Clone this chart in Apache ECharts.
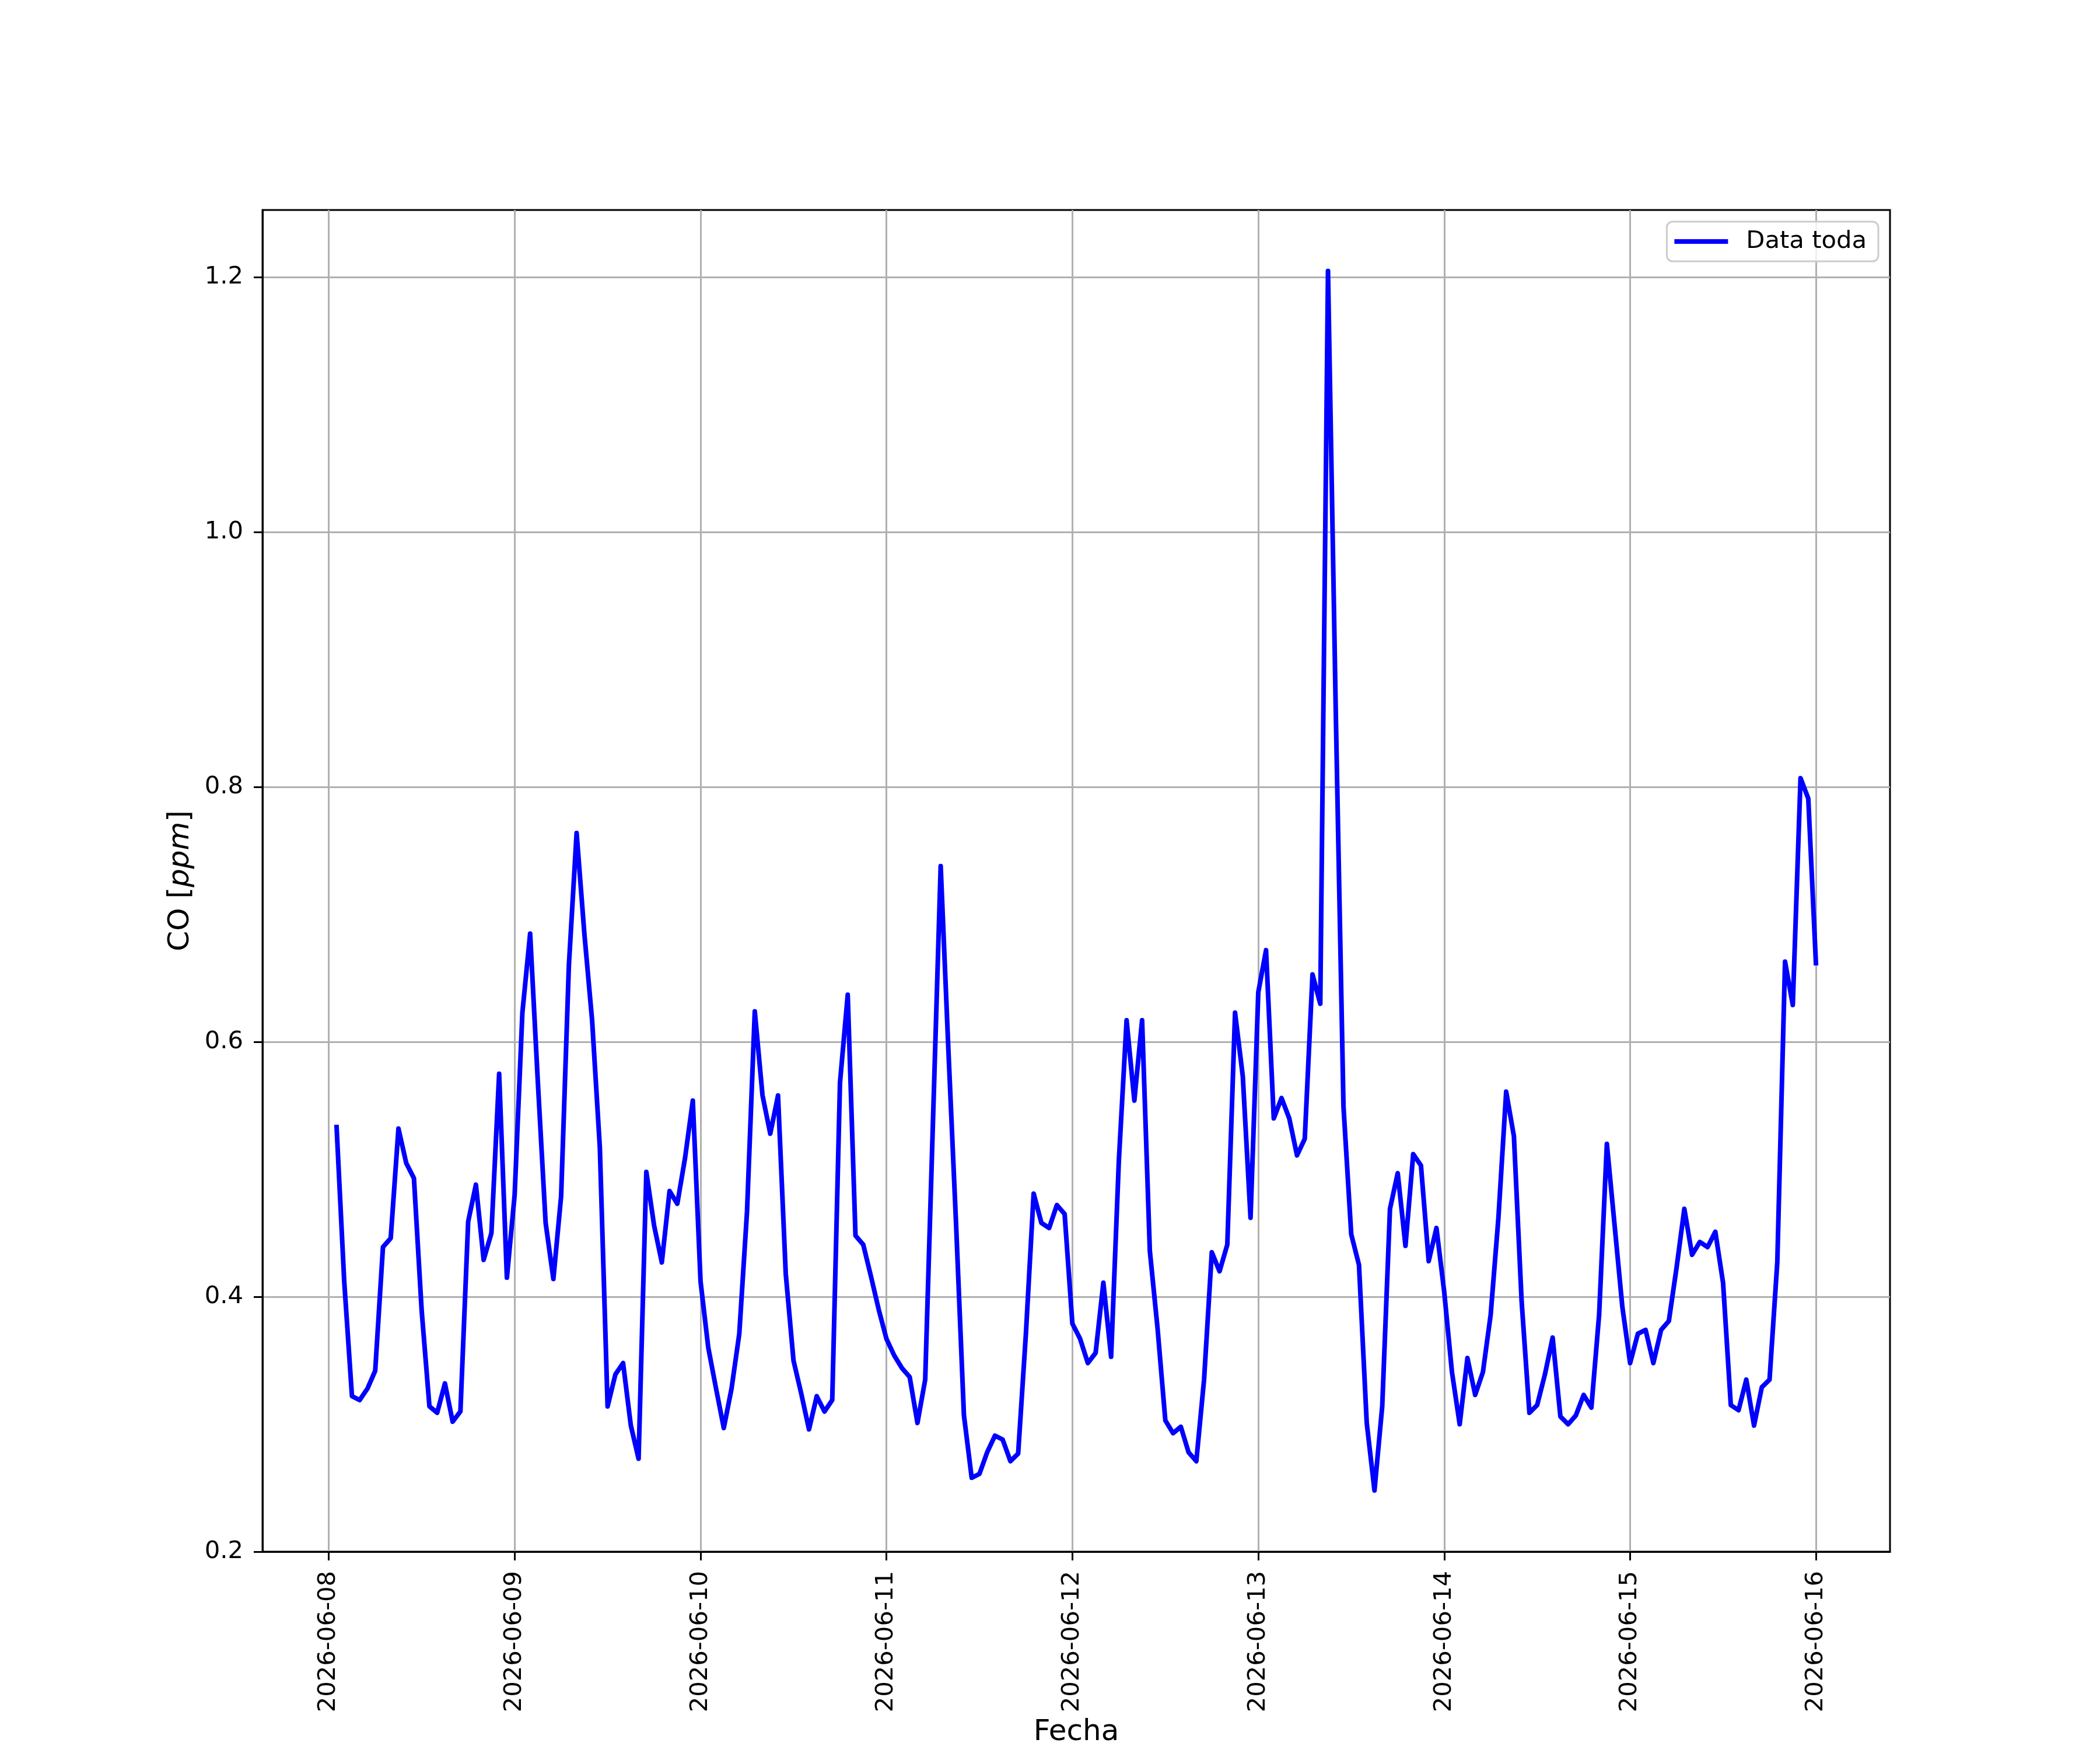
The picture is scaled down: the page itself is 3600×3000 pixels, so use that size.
<!DOCTYPE html>
<html>
<head>
<meta charset="utf-8">
<script src="https://cdn.jsdelivr.net/npm/echarts@6/dist/echarts.min.js"></script>
<style>
  html, body { margin: 0; padding: 0; background: #fff; }
  #main { width: 3600px; height: 3000px; }
</style>
</head>
<body>
<div id="main"></div>
<script>
// hourly CO readings, 2026-06-08 01:00 .. 2026-06-16 00:00 (one array per day)
var day1 = [0.535, 0.412, 0.322, 0.319, 0.328, 0.342, 0.439, 0.446, 0.532, 0.505, 0.493, 0.389,
            0.314, 0.309, 0.332, 0.302, 0.310, 0.459, 0.488, 0.429, 0.450, 0.575, 0.415, 0.480];
var day2 = [0.623, 0.685, 0.568, 0.458, 0.414, 0.479, 0.660, 0.764, 0.685, 0.617, 0.517, 0.314,
            0.339, 0.348, 0.299, 0.273, 0.498, 0.456, 0.427, 0.483, 0.473, 0.509, 0.554, 0.412];
var day3 = [0.360, 0.328, 0.297, 0.328, 0.371, 0.467, 0.624, 0.558, 0.528, 0.558, 0.418, 0.350,
            0.324, 0.296, 0.322, 0.310, 0.319, 0.568, 0.637, 0.448, 0.441, 0.416, 0.390, 0.367];
var day4 = [0.354, 0.344, 0.337, 0.301, 0.335, 0.537, 0.738, 0.593, 0.455, 0.307, 0.258, 0.261,
            0.278, 0.291, 0.288, 0.271, 0.277, 0.371, 0.481, 0.458, 0.454, 0.472, 0.465, 0.379];
var day5 = [0.367, 0.348, 0.356, 0.411, 0.353, 0.507, 0.617, 0.554, 0.617, 0.436, 0.375, 0.303,
            0.293, 0.298, 0.278, 0.271, 0.335, 0.435, 0.420, 0.441, 0.623, 0.573, 0.462, 0.639];
var day6 = [0.672, 0.540, 0.556, 0.540, 0.511, 0.524, 0.653, 0.630, 1.205, 0.860, 0.549, 0.449,
            0.425, 0.301, 0.248, 0.314, 0.469, 0.497, 0.440, 0.512, 0.503, 0.428, 0.454, 0.404];
var day7 = [0.341, 0.300, 0.352, 0.323, 0.341, 0.386, 0.462, 0.561, 0.526, 0.396, 0.309, 0.315,
            0.339, 0.368, 0.306, 0.300, 0.307, 0.323, 0.313, 0.386, 0.520, 0.456, 0.392, 0.348];
var day8 = [0.371, 0.374, 0.348, 0.374, 0.381, 0.423, 0.469, 0.433, 0.443, 0.439, 0.451, 0.411,
            0.315, 0.311, 0.335, 0.299, 0.329, 0.335, 0.427, 0.663, 0.629, 0.807, 0.791, 0.660];

var xTicks = ['2026-06-08', '2026-06-09', '2026-06-10', '2026-06-11', '2026-06-12',
              '2026-06-13', '2026-06-14', '2026-06-15', '2026-06-16'];
var yTicks = [0.2, 0.4, 0.6, 0.8, 1.0, 1.2];

var HOUR = 3600 * 1000;
var start = Date.UTC(2026, 5, 8, 1);
var co = [].concat(day1, day2, day3, day4, day5, day6, day7, day8);
var data = co.map(function (v, i) { return [start + i * HOUR, v]; });

// matplotlib style 5% margins
var tFirst = data[0][0], tLast = data[data.length - 1][0];
var xPad = (tLast - tFirst) * 0.05;
var vMax = Math.max.apply(null, co), vMin = Math.min.apply(null, co);
var yMax = vMax + (vMax - vMin) * 0.05;

var xTickValues = xTicks.map(function (d) { return Date.parse(d + 'T00:00:00Z'); });

function two(n) { return n < 10 ? '0' + n : '' + n; }
function fmtDate(t) {
    var d = new Date(t);
    return d.getUTCFullYear() + '-' + two(d.getUTCMonth() + 1) + '-' + two(d.getUTCDate());
}

var FONT = 'DejaVu Sans';
var myChart = echarts.init(document.getElementById('main'));

var option = {
    backgroundColor: '#fff',
    animation: false,
    textStyle: { fontFamily: FONT },
    grid: {
        left: 450, right: 360, top: 360, bottom: 330,
        show: true, borderColor: '#000', borderWidth: 3,
        containLabel: false
    },
    legend: {
        right: 380, top: 380,
        data: ['Data toda'],
        icon: 'rect',
        itemWidth: 92, itemHeight: 8,
        padding: [13, 20, 13, 13],
        backgroundColor: 'rgba(255,255,255,0.8)',
        borderColor: '#cccccc', borderWidth: 3, borderRadius: 10,
        textStyle: { fontSize: 41.7, color: '#000', fontFamily: FONT, padding: [0, 0, 0, 26] }
    },
    xAxis: {
        type: 'value',
        min: tFirst - xPad,
        max: tLast + xPad,
        name: 'Fecha',
        nameLocation: 'middle',
        nameGap: 285,
        nameTextStyle: { fontSize: 50, color: '#000', fontFamily: FONT },
        axisLine: { show: true, lineStyle: { color: '#000', width: 3 } },
        axisTick: { show: true, inside: false, length: 15, lineStyle: { color: '#000', width: 3 },
                    customValues: xTickValues },
        axisLabel: { show: true, rotate: 90, margin: 33, fontSize: 41.7, color: '#000', fontFamily: FONT,
                     customValues: xTickValues, formatter: function (v) { return fmtDate(v); } },
        splitLine: { show: true, lineStyle: { color: '#b0b0b0', width: 3 } }
    },
    yAxis: {
        type: 'value',
        min: 0.2,
        max: yMax,
        name: 'CO [{i|ppm}]',
        nameLocation: 'middle',
        nameGap: 115,
        nameTextStyle: {
            fontSize: 50, color: '#000', fontFamily: FONT,
            rich: { i: { fontSize: 50, fontStyle: 'italic', color: '#000', fontFamily: FONT } }
        },
        axisLine: { show: true, lineStyle: { color: '#000', width: 3 } },
        axisTick: { show: true, inside: false, length: 15, lineStyle: { color: '#000', width: 3 },
                    customValues: yTicks },
        axisLabel: { show: true, margin: 33, fontSize: 41.7, color: '#000', fontFamily: FONT,
                     customValues: yTicks, formatter: function (v) { return v.toFixed(1); } },
        splitLine: { show: true, lineStyle: { color: '#b0b0b0', width: 3 } }
    },
    series: [{
        name: 'Data toda',
        type: 'line',
        data: data,
        showSymbol: false,
        symbol: 'none',
        color: '#0000ff',
        lineStyle: { color: '#0000ff', width: 8, join: 'round' },
        z: 3
    }]
};
myChart.setOption(option);
</script>
</body>
</html>
